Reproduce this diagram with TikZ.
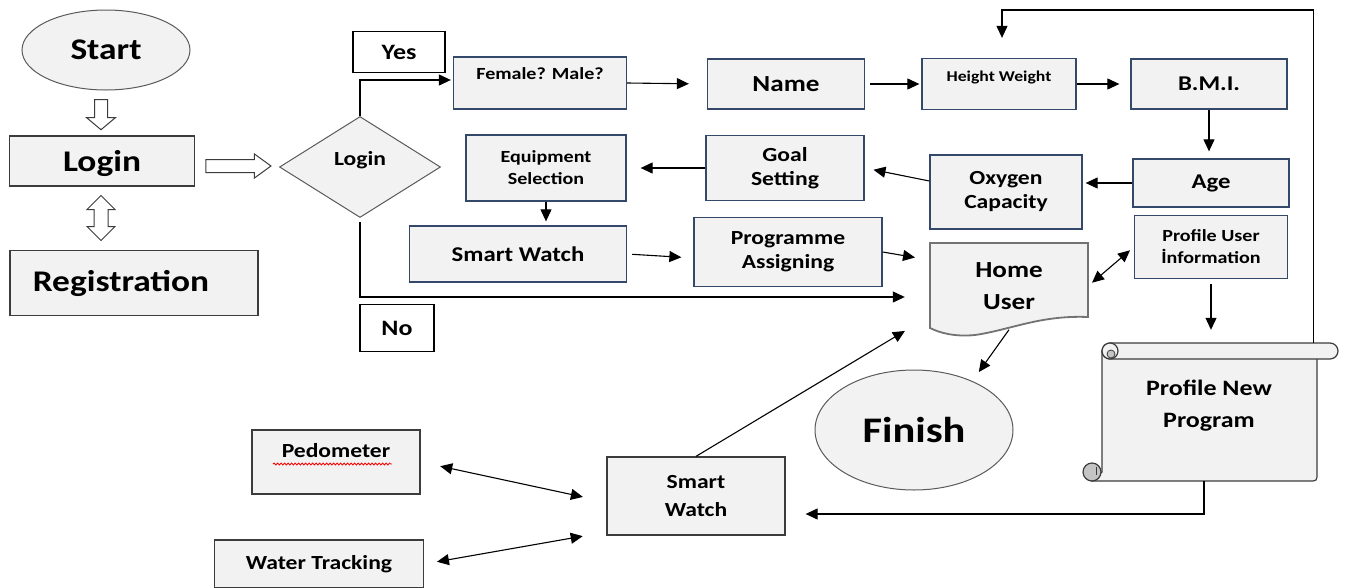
\documentclass[tikz,border=0pt]{standalone}
\usepackage{fontspec}
\setmainfont{Carlito}[FakeStretch=1.18]
\usepackage{tikz}
\usetikzlibrary{arrows.meta,shapes.geometric,shapes.arrows,decorations.pathmorphing}
\definecolor{boxfill}{HTML}{F2F2F2}
\definecolor{boxline}{HTML}{34496A}
\definecolor{darkline}{HTML}{3C3C3C}
\definecolor{greyline}{HTML}{5A5A5A}
\definecolor{curlfill}{HTML}{C4C4C4}
\newcommand{\sz}[2]{\fontsize{#1}{#2}\selectfont\bfseries}

\begin{document}
\begin{tikzpicture}[
  x=1pt, y=-1pt,
  box/.style={rectangle, draw=boxline, fill=boxfill, line width=1.3pt,
              align=center, inner sep=1pt, text=black},
  gbox/.style={box, draw=darkline},
  tag/.style={rectangle, draw=black, fill=white, line width=1.3pt, inner sep=1pt},
  term/.style={ellipse, draw=greyline, fill=boxfill, line width=1pt, inner sep=0pt},
  decide/.style={diamond, draw=greyline, fill=boxfill, line width=1pt, inner sep=0pt},
  hollow/.style={draw=darkline, fill=white, line width=1pt, inner xsep=0pt},
  conn/.style={line width=1.1pt, -{Triangle[length=12pt,width=11pt]}},
  biconn/.style={line width=1.1pt, {Triangle[length=12pt,width=11pt]}-{Triangle[length=12pt,width=11pt]}},
  scroll/.style={draw=darkline, fill=boxfill, line width=1.2pt},
]
\useasboundingbox (0,0) rectangle (1345,587);

% left column
\node[term, minimum width=168pt, minimum height=80pt, font=\sz{30}{36}] (start) at (106,50) {Start};
\node[hollow, single arrow, inner ysep=6pt, single arrow head extend=8pt,
      single arrow tip angle=100, minimum width=28pt, minimum height=30pt, rotate=-90] (startdown) at (101,112) {};
\node[gbox, minimum width=185pt, minimum height=50pt, text depth=0pt, font=\sz{30}{36}] (login) at (102,161) {Login};
\node[hollow, double arrow, inner ysep=6.5pt, double arrow head extend=7pt,
      double arrow tip angle=90, minimum width=27pt, minimum height=45pt, rotate=90] (regboth) at (101,218) {};
\node[gbox, minimum width=248pt, minimum height=65pt, font=\sz{30}{36}] (reg) at (134,283) {Registration\hspace*{26pt}};
\node[hollow, single arrow, inner ysep=6pt, single arrow head extend=5.5pt,
      single arrow tip angle=72, minimum width=23pt, minimum height=65pt] (loginright) at (234,166) {};

% decision
\node[decide, minimum width=161pt, minimum height=101pt, text depth=18pt, font=\sz{20}{24}] (check) at (360,167) {Login};
\node[tag, minimum width=92pt, minimum height=41pt, font=\sz{22}{26}] (yes) at (399,52) {Yes};
\node[tag, minimum width=74pt, minimum height=47pt, font=\sz{22}{26}] (no) at (397,328) {No};

% profile chain
\node[box, minimum width=173pt, minimum height=52pt, text depth=19pt, font=\sz{17}{20}] (gender) at (540,83) {Female? Male?};
\node[box, minimum width=157pt, minimum height=50pt, font=\sz{23}{26}] (name) at (786,84) {Name};
\node[box, minimum width=154pt, minimum height=51pt, text depth=15pt, font=\sz{15}{18}] (hw) at (999,84) {Height Weight};
\node[box, minimum width=156pt, minimum height=50pt, font=\sz{21}{24}] (bmi) at (1209,84) {B.M.I.};
\node[box, minimum width=156pt, minimum height=48pt, font=\sz{21}{24}] (age) at (1211,183) {Age};
\node[box, minimum width=152pt, minimum height=74pt, font=\sz{20}{24}] (oxy) at (1006,192) {Oxygen\\Capacity};
\node[box, minimum width=158pt, minimum height=65pt, font=\sz{20}{24}] (goal) at (785,168) {Goal\\Setting};
\node[box, minimum width=160pt, minimum height=66pt, font=\sz{17}{22}] (equip) at (546,168) {Equipment\\Selection};
\node[box, minimum width=217pt, minimum height=56pt, font=\sz{21}{24}] (sw1) at (518,254) {Smart Watch};
\node[box, minimum width=188pt, minimum height=69pt, font=\sz{20}{24}] (prog) at (788,252) {Programme\\Assigning};
\node[box, minimum width=153pt, minimum height=63pt, font=\sz{17}{22}] (pui) at (1211,247) {Profile User\\İnformation};

% home user document
\filldraw[draw=greyline!85, fill=boxfill, line width=1.8pt]
  (930,243) -- (1088,243) -- (1088,317)
  .. controls (1040,315) and (1010,330) .. (975,335)
  .. controls (955,337) and (940,333) .. (930,328) -- cycle;
\node[align=center, minimum width=158pt, minimum height=87pt, font=\sz{23}{32}] (home) at (1009,286) {Home\\User};

% profile new program scroll
\filldraw[scroll] (1102,351) -- (1102,472) -- (1092,481) -- (1309,481)
  .. controls (1317,481) .. (1317,473) -- (1317,351) -- cycle;
\filldraw[scroll, rounded corners=8pt] (1102,343) rectangle (1338,359);
\filldraw[scroll] (1110,351) circle[radius=8pt];
\filldraw[draw=darkline, fill=curlfill, line width=0.8pt] (1111,354) circle[radius=4pt];
\filldraw[draw=darkline, fill=curlfill, line width=1.2pt] (1092,472) circle[radius=9pt];
\draw[darkline, line width=0.8pt] (1096,467) -- (1096,475);
\node[align=center, minimum width=215pt, minimum height=138pt, text depth=16pt, font=\sz{22}{32}] (newprog) at (1209,412) {Profile New\\Program};

% bottom part
\node[term, minimum width=198pt, minimum height=120pt, font=\sz{36}{40}] (finish) at (914,430) {Finish};
\node[gbox, minimum width=178pt, minimum height=78pt, font=\sz{20}{28}] (sw2) at (696,496) {Smart\\Watch};
\node[gbox, minimum width=168pt, minimum height=64pt, text depth=24pt, font=\sz{20}{24}] (pedo) at (336,462) {Pedometer};
\draw[red, line width=0.8pt, decorate, decoration={snake, amplitude=1pt, segment length=3.5pt}] (273,464) -- (392,464);
\node[gbox, minimum width=209pt, minimum height=48pt, font=\sz{20}{24}] (water) at (319,564) {Water Tracking};

% connectors
\draw[conn, shorten >=2pt] (check.north) |- ([yshift=3pt]gender.west);
\draw[conn, shorten <=4pt, shorten >=25pt] (check.south) |- ([yshift=-11pt]home.west);
\draw[conn, shorten >=18pt] (gender.east) -- (name.west);
\draw[conn, shorten <=5pt, shorten >=2pt] (name.east) -- (hw.west);
\draw[conn, shorten >=11pt] (hw.east) -- (bmi.west);
\draw[conn, shorten >=7pt] (bmi.south) -- (bmi.south |- age.north);
\draw[conn, shorten >=3pt] (age.west) -- (age.west -| oxy.east);
\draw[conn, shorten >=9pt] ([yshift=11pt]oxy.west) -- (goal.east);
\draw[conn, shorten >=14pt] (goal.west) -- (equip.east);
\draw[conn, shorten >=4pt] (equip.south) -- (equip.south |- sw1.north);
\draw[conn, shorten <=5pt, shorten >=12pt] (sw1.east) -- ([yshift=-6pt]prog.west);
\draw[conn, shorten >=15pt] (prog.east) -- ([yshift=26pt]home.west);
\draw[biconn, shorten <=5pt, shorten >=5pt] (home.east) -- (pui.west);
\draw[conn, shorten <=5pt, shorten >=13pt] (pui.south) -- (pui.south |- newprog.north);
\draw[conn, shorten >=11pt] (home.south) -- (finish.40);

\coordinate (looptop) at (1002,10);
\draw[conn, shorten >=20pt] ([xshift=-3pt]newprog.north east) |- (looptop) -- ([xshift=3pt]hw.north);
\draw[conn, shorten >=20pt] ([xshift=-5pt]newprog.south) |- ([yshift=-18pt]sw2.east);

\draw[conn, shorten >=29pt] (sw2.north) -- ([yshift=-30pt]home.west);
\draw[biconn, shorten <=20pt, shorten >=24pt] (pedo.east) -- ([yshift=-6pt]sw2.west);
\draw[biconn, shorten <=13pt, shorten >=24pt] (water.east) -- ([yshift=-36pt]sw2.west);
\end{tikzpicture}
\end{document}
